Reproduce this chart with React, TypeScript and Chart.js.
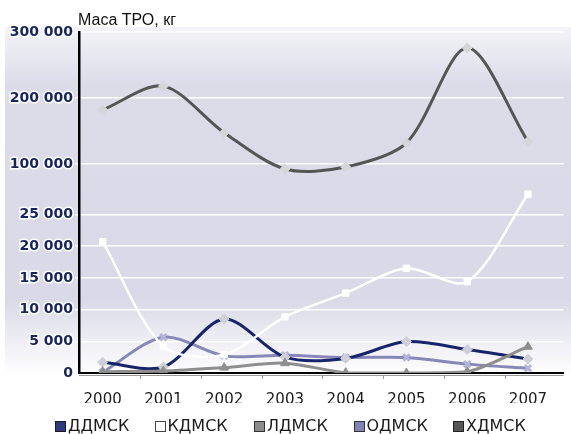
import React, { useEffect, useRef } from 'react';
import { Chart, registerables, LinearScale } from 'chart.js';

// ---------- data ----------
const years = ['2000', '2001', '2002', '2003', '2004', '2005', '2006', '2007'];
const seriesNames = ['ДДМСК', 'КДМСК', 'ЛДМСК', 'ОДМСК', 'ХДМСК'];
const ddmsk = [1700, 950, 8500, 2500, 2300, 4950, 3700, 2200];
const kdmsk = [20700, 4200, 2900, 8850, 12600, 16500, 14400, 28200];
const ldmsk = [200, 300, 850, 1550, 50, 0, 200, 4150];
const odmsk = [100, 5650, 2700, 2800, 2450, 2450, 1400, 750];
const hdmsk = [182000, 218000, 147500, 92500, 95500, 132000, 276000, 134000];
const yTicks = [0, 5000, 10000, 15000, 20000, 25000, 100000, 200000, 300000];
const yTitle = 'Маса ТРО, кг';

// ---------- broken (piecewise linear) value axis ----------
const KNOTS: [number, number][] = [
  [0, 0],
  [29000, 183.9],
  [90000, 202.4],
  [300000, 341],
];
const KNOT_SPAN = KNOTS[KNOTS.length - 1][1];

function valueToDecimal(v: number): number {
  for (let i = 1; i < KNOTS.length; i++) {
    if (v <= KNOTS[i][0] || i === KNOTS.length - 1) {
      const [v0, p0] = KNOTS[i - 1];
      const [v1, p1] = KNOTS[i];
      return (p0 + ((v - v0) / (v1 - v0)) * (p1 - p0)) / KNOT_SPAN;
    }
  }
  return 0;
}
function decimalToValue(d: number): number {
  const p = d * KNOT_SPAN;
  for (let i = 1; i < KNOTS.length; i++) {
    if (p <= KNOTS[i][1] || i === KNOTS.length - 1) {
      const [v0, p0] = KNOTS[i - 1];
      const [v1, p1] = KNOTS[i];
      return v0 + ((p - p0) / (p1 - p0)) * (v1 - v0);
    }
  }
  return 0;
}

class BrokenLinearScale extends LinearScale {
  static id = 'brokenLinear';
  getPixelForValue(value: any) {
    if (value === null || value === undefined || isNaN(value)) return NaN;
    return this.getPixelForDecimal(valueToDecimal(value));
  }
  getValueForPixel(pixel: number) {
    return decimalToValue(this.getDecimalForPixel(pixel));
  }
}

Chart.register(...registerables, BrokenLinearScale);

const fmt = (v: number) => String(v).replace(/\B(?=(\d{3})+(?!\d))/g, ' ');
const TENSION = 0.3;

const bgPlugin = {
  id: 'bgGradient',
  beforeDraw(chart: any) {
    const { ctx, chartArea } = chart;
    const top = chartArea.top - 5;
    const bottom = chartArea.bottom + 2;
    const g = ctx.createLinearGradient(0, top, 0, bottom);
    g.addColorStop(0, '#f3f3f8');
    g.addColorStop(0.17, '#dcdce9');
    g.addColorStop(0.78, '#d9d9e7');
    g.addColorStop(1, '#ffffff');
    ctx.save();
    ctx.fillStyle = g;
    ctx.fillRect(5, top, chart.width - 5, bottom - top);
    ctx.restore();
  },
};

const xTickPlugin = {
  id: 'xTickMarks',
  afterDraw(chart: any) {
    const { ctx, chartArea } = chart;
    const xs = chart.scales.x;
    ctx.save();
    ctx.strokeStyle = '#9a9a9a';
    ctx.lineWidth = 1;
    ctx.beginPath();
    ctx.moveTo(chartArea.left, chartArea.bottom + 2.5);
    ctx.lineTo(chartArea.right, chartArea.bottom + 2.5);
    for (let i = 0; i < years.length - 1; i++) {
      const px = Math.round(xs.getPixelForValue(i + 0.616)) + 0.5;
      ctx.moveTo(px, chartArea.bottom + 2);
      ctx.lineTo(px, chartArea.bottom + 6);
    }
    ctx.stroke();
    ctx.restore();
  },
};

const legendItems = [
  { name: seriesNames[0], fill: '#2d3a7c', border: '#1a1a2a' },
  { name: seriesNames[1], fill: '#ffffff', border: '#444444' },
  { name: seriesNames[2], fill: '#8c8c8c', border: '#333333' },
  { name: seriesNames[3], fill: '#8282b6', border: '#333333' },
  { name: seriesNames[4], fill: '#555555', border: '#222222' },
];

export default function App() {
  const ref = useRef<HTMLCanvasElement | null>(null);

  useEffect(() => {
    document.body.style.margin = '0';
    const toPts = (arr: number[]) => arr.map((y, i) => ({ x: i, y }));
    const chart = new Chart(ref.current as HTMLCanvasElement, {
      type: 'line',
      data: {
        datasets: [
          {
            label: seriesNames[4],
            data: toPts(hdmsk),
            borderColor: '#555555',
            borderWidth: 3,
            pointStyle: 'rectRot',
            pointRadius: 5,
            pointBackgroundColor: '#d6d6da',
            pointBorderColor: '#d6d6da',
            pointBorderWidth: 1,
            tension: TENSION,
            order: 4,
          },
          {
            label: seriesNames[3],
            data: toPts(odmsk),
            borderColor: '#8787b8',
            borderWidth: 3,
            pointStyle: 'crossRot',
            pointRadius: 4.5,
            pointBackgroundColor: '#b4b4d8',
            pointBorderColor: '#b4b4da',
            pointBorderWidth: 3,
            tension: TENSION,
            order: 3,
          },
          {
            label: seriesNames[0],
            data: toPts(ddmsk),
            borderColor: '#17236a',
            borderWidth: 3,
            pointStyle: 'rectRot',
            pointRadius: 5,
            pointBackgroundColor: '#cfcfd6',
            pointBorderColor: '#cfcfd6',
            pointBorderWidth: 1,
            tension: TENSION,
            order: 2,
          },
          {
            label: seriesNames[2],
            data: toPts(ldmsk),
            borderColor: '#8e8e8e',
            borderWidth: 3,
            pointStyle: 'triangle',
            pointRadius: 5,
            pointBackgroundColor: '#8e8e8e',
            pointBorderColor: '#8e8e8e',
            pointBorderWidth: 1,
            tension: TENSION,
            order: 1,
          },
          {
            label: seriesNames[1],
            data: toPts(kdmsk),
            borderColor: '#ffffff',
            borderWidth: 2.5,
            pointStyle: 'rect',
            pointRadius: 4.5,
            pointBackgroundColor: '#ffffff',
            pointBorderColor: '#ffffff',
            pointBorderWidth: 1,
            tension: TENSION,
            order: 0,
          },
        ],
      },
      options: {
        responsive: false,
        animation: false,
        events: [],
        layout: { padding: { top: 32, bottom: 31, left: 0, right: 0 } },
        plugins: {
          legend: { display: false },
          tooltip: { enabled: false },
          title: { display: false },
        },
        scales: {
          x: {
            type: 'linear',
            min: -0.389,
            max: 7.585,
            grid: { display: false, drawTicks: false },
            border: { display: true, color: '#000000', width: 2 },
            ticks: {
              autoSkip: false,
              maxRotation: 0,
              padding: 18,
              color: '#1a1a1a',
              font: { family: 'DejaVu Sans', size: 15 },
              callback: (_v: any, i: number) => years[i],
            },
            afterBuildTicks: (s: any) => {
              s.ticks = years.map((_, i) => ({ value: i }));
            },
            afterFit: (s: any) => {
              s.height = 30;
            },
          },
          y: {
            type: 'brokenLinear' as any,
            min: 0,
            max: 300000,
            position: 'left',
            grid: { color: '#ffffff', lineWidth: 1.5, tickLength: 4, tickColor: '#ffffff' },
            border: { display: true, color: '#000000', width: 2.5 },
            ticks: {
              autoSkip: false,
              padding: 2,
              color: '#17245f',
              textStrokeColor: '#ffffff',
              textStrokeWidth: 3,
              font: { family: 'DejaVu Sans', size: 14, weight: 'bold' },
              callback: (v: any) => fmt(Number(v)),
            },
            afterBuildTicks: (s: any) => {
              s.ticks = yTicks.map((v) => ({ value: v }));
            },
            afterFit: (s: any) => {
              s.width = 79;
            },
          },
        },
      } as any,
      plugins: [bgPlugin, xTickPlugin],
    });
    return () => chart.destroy();
  }, []);

  return (
    <div style={{ position: 'relative', width: 571, height: 434, background: '#ffffff' }}>
      <canvas ref={ref} width={571} height={434} style={{ display: 'block', width: 571, height: 434 }} />
      <div
        style={{
          position: 'absolute',
          left: 78,
          top: 10,
          fontFamily: '"Liberation Sans", Arial, sans-serif',
          fontSize: 16,
          lineHeight: '20px',
          color: '#111111',
          whiteSpace: 'nowrap',
        }}
      >
        {yTitle}
      </div>
      <div style={{ position: 'absolute', left: 0, top: 416, width: 571, height: 20 }}>
        {legendItems.map((it, i) => (
          <div
            key={it.name}
            style={{
              position: 'absolute',
              left: 55 + i * 99.5,
              top: 0,
              display: 'flex',
              alignItems: 'center',
              height: 20,
              whiteSpace: 'nowrap',
            }}
          >
            <span
              style={{
                display: 'inline-block',
                width: 9,
                height: 9,
                background: it.fill,
                border: `1px solid ${it.border}`,
                marginRight: 2,
              }}
            />
            <span
              style={{
                fontFamily: '"DejaVu Sans", sans-serif',
                fontSize: 16,
                color: '#1a1a1a',
                lineHeight: '20px',
              }}
            >
              {it.name}
            </span>
          </div>
        ))}
      </div>
    </div>
  );
}
